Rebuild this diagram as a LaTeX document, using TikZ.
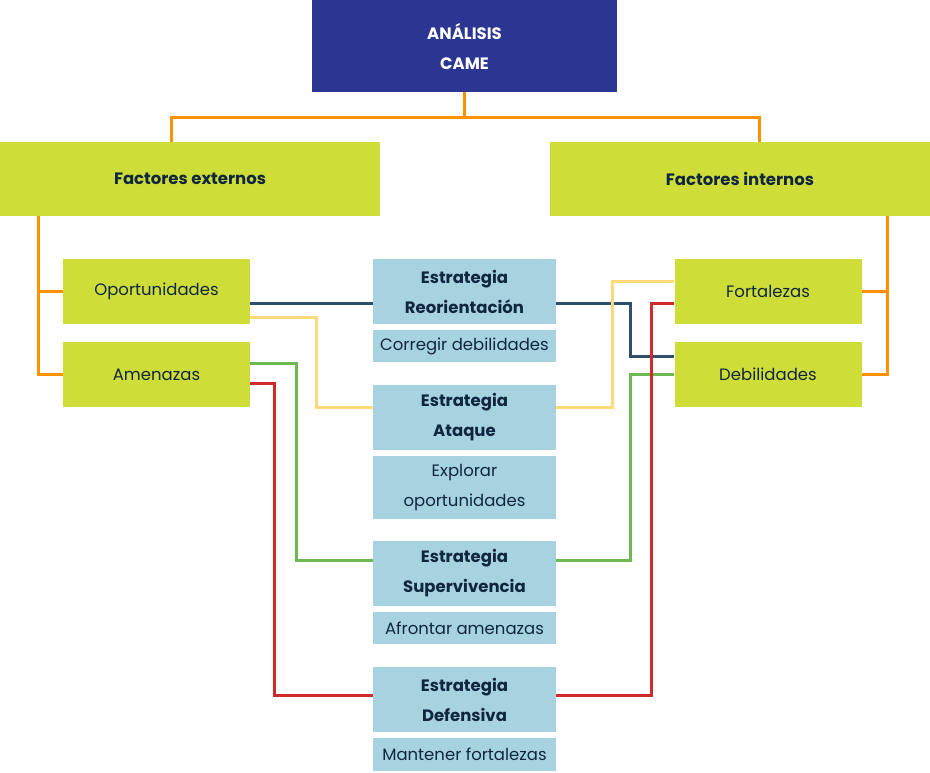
\documentclass[tikz,border=0pt]{standalone}
\usepackage{fontspec}
\setmainfont{Poppins}
\usetikzlibrary{calc}
\definecolor{camebg}{HTML}{2A3692}
\definecolor{limebg}{HTML}{CFDD38}
\definecolor{skybg}{HTML}{A7D3E1}
\definecolor{navytxt}{HTML}{10263F}
\definecolor{corange}{HTML}{FF9100}
\definecolor{cdblue}{HTML}{2F4F6D}
\definecolor{cyellow}{HTML}{FFD97A}
\definecolor{cgreen}{HTML}{6DB84F}
\definecolor{cred}{HTML}{D02A2A}
\tikzset{
  basebox/.style={inner sep=0pt, align=center, text=navytxt, font=\fontsize{16.5}{30}\selectfont},
  titlebox/.style={basebox, fill=camebg, text=white, font=\fontsize{16.5}{30}\selectfont\bfseries, minimum width=305pt, minimum height=92pt},
  factbox/.style={basebox, fill=limebg, font=\fontsize{16.5}{30}\selectfont\bfseries, minimum width=380pt, minimum height=74pt},
  itembox/.style={basebox, fill=limebg, minimum width=187pt, minimum height=65pt},
  stratbox/.style={basebox, fill=skybg, font=\fontsize{16.5}{30}\selectfont\bfseries, minimum width=183pt, minimum height=65pt},
  descbox/.style={basebox, fill=skybg, minimum width=183pt},
  link/.style={line width=3pt},
  olink/.style={link, draw=corange},
  blink/.style={link, draw=cdblue},
  ylink/.style={link, draw=cyellow},
  glink/.style={link, draw=cgreen},
  rlink/.style={link, draw=cred}
}
\begin{document}
\begin{tikzpicture}[x=1pt,y=-1pt]
\useasboundingbox (0,0) rectangle (930,772);
% nodes
\node[titlebox] (came) at (464.5,46) {ANÁLISIS\\CAME};
\node[factbox] (fe) at (190,179) {Factores externos};
\node[factbox] (fi) at (740,179) {Factores internos};
\node[itembox] (opo) at (156.5,291.5) {Oportunidades};
\node[itembox] (ame) at (156.5,374.5) {Amenazas};
\node[itembox] (fort) at (768,291.5) {Fortalezas};
\node[itembox] (deb) at (768,374.5) {Debilidades};
\node[stratbox] (reo) at (464.5,291.5) {Estrategia\\Reorientación};
\node[descbox, minimum height=32pt] (reod) at (464.5,346) {Corregir debilidades};
\node[stratbox] (ata) at (464.5,417.5) {Estrategia\\Ataque};
\node[descbox, minimum height=63pt] (atad) at (464.5,487.5) {Explorar\\oportunidades};
\node[stratbox] (sup) at (464.5,573.5) {Estrategia\\Supervivencia};
\node[descbox, minimum height=32pt] (supd) at (464.5,628) {Afrontar amenazas};
\node[stratbox] (def) at (464.5,699.5) {Estrategia\\Defensiva};
\node[descbox, minimum height=33pt] (defd) at (464.5,754.5) {Mantener fortalezas};
% orange tree
\coordinate (jl) at (171,117);
\coordinate (jr) at (759,117);
\draw[olink] (came.south) |- (jl) -- (jl |- fe.north);
\draw[olink] (came.south) |- (jr) -- (jr |- fi.north);
\draw[olink] ([xshift=39pt]fe.south west) |- (opo.west);
\draw[olink] ([xshift=39pt]fe.south west) |- (ame.west);
\draw[olink] ([xshift=-43pt]fi.south east) |- (fort.east);
\draw[olink] ([xshift=-43pt]fi.south east) |- (deb.east);
% strategy connectors
\draw[blink] ([yshift=-11.5pt]opo.east) -- ([yshift=-11.5pt]reo.west);
\draw[blink] ([yshift=-11.5pt]reo.east) -- ++(74,0) |- ([yshift=18.5pt]deb.west);
\draw[ylink] ([yshift=-25.5pt]opo.east) -- ++(66,0) |- ([yshift=10.5pt]ata.west);
\draw[ylink] ([yshift=10.5pt]ata.east) -- ++(56.5,0) |- ([yshift=10.5pt]fort.west);
\draw[glink] ([yshift=11.5pt]ame.east) -- ++(46,0) |- ([yshift=13.5pt]sup.west);
\draw[glink] ([yshift=13.5pt]sup.east) -- ++(74,0) |- (deb.west);
\draw[rlink] ([yshift=-8.5pt]ame.east) -- ++(24.5,0) |- ([yshift=4.5pt]def.west);
\draw[rlink] ([yshift=4.5pt]def.east) -- ++(95,0) |- ([yshift=-11.5pt]fort.west);
\end{tikzpicture}
\end{document}
